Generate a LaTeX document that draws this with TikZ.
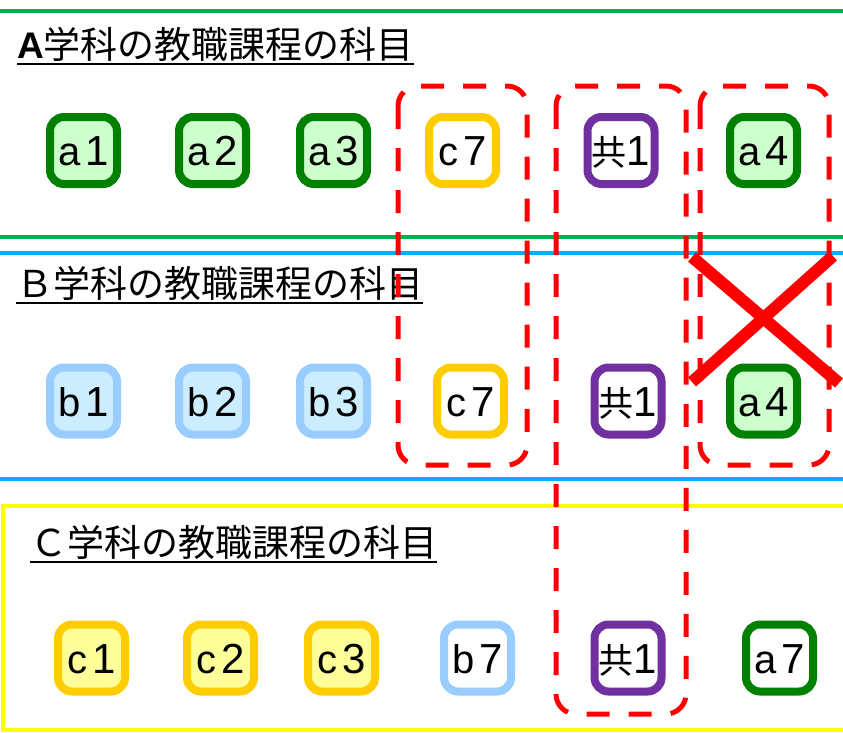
\documentclass[tikz,border=0pt]{standalone}
\usepackage{fontspec}
\setmainfont{Liberation Sans}
\newfontfamily\cjk{Noto Sans CJK JP}
\definecolor{secgreen}{HTML}{00B050}
\definecolor{secblue}{HTML}{00B0F0}
\definecolor{secyellow}{HTML}{FFFF00}
\definecolor{bgreen}{HTML}{008000}
\definecolor{fgreen}{HTML}{CCFFCC}
\definecolor{bblue}{HTML}{99CCFF}
\definecolor{fblue}{HTML}{CCECFF}
\definecolor{byellow}{HTML}{FFCC00}
\definecolor{fyellow}{HTML}{FFFF99}
\definecolor{bpurple}{HTML}{7030A0}
\newcommand\myletter[1]{{\fontsize{40}{40}\selectfont #1}}
\newcommand\mydigit[1]{{\fontsize{42}{42}\selectfont #1}}
\newcommand\subjtext[2]{\myletter{#1}\hspace{5pt}\mydigit{#2}}
\newcommand\kyotext{{\cjk\fontsize{35}{35}\selectfont 共}\mydigit{1}}
\newcommand\titlefont{\cjk\fontsize{37}{37}\selectfont}
\begin{document}
\begin{tikzpicture}[x=1pt,y=-1pt,
  subj/.style={draw, line width=8pt, rounded corners=14pt, minimum width=67pt,
    minimum height=67pt, inner sep=0pt, text height=30pt, text depth=0pt},
  gfill/.style={subj, draw=bgreen, fill=fgreen},
  gwhite/.style={subj, draw=bgreen, fill=white},
  bfill/.style={subj, draw=bblue, fill=fblue},
  bwhite/.style={subj, draw=bblue, fill=white},
  yfill/.style={subj, draw=byellow, fill=fyellow},
  ywhite/.style={subj, draw=byellow, fill=white},
  pwhite/.style={subj, draw=bpurple, fill=white},
  secline/.style={line width=4pt},
  title/.style={anchor=base west, inner sep=0pt},
  uline/.style={line width=2.5pt, black},
  group/.style={draw=red, line width=5pt, dash pattern=on 23pt off 19pt, rounded corners=20pt},
  cross/.style={red, line width=12pt}
]
\useasboundingbox[fill=white] (0,0) rectangle (843,732);

% section lines
\draw[secline, secgreen] (0,11) -- (843,11);
\draw[secline, secgreen] (0,237) -- (843,237);
\draw[secline, secblue] (0,253) -- (843,253);
\draw[secline, secblue] (0,479) -- (843,479);
\draw[secline, secyellow] (850,506) -- (3,506) -- (3,730) -- (850,730);

% titles
\node[title] (tA) at (17,58) {{\fontsize{37}{37}\selectfont\bfseries A}{\titlefont 学科の教職課程の科目}};
\draw[uline] ([yshift=-6pt]tA.base west) -- ([yshift=-6pt]tA.base east);
\node[title] (tB) at (16,297) {\titlefont Ｂ学科の教職課程の科目};
\draw[uline] ([yshift=-6pt]tB.base west) -- ([yshift=-6pt]tB.base east);
\node[title] (tC) at (30,556) {\titlefont Ｃ学科の教職課程の科目};
\draw[uline] ([yshift=-6pt]tC.base west) -- ([yshift=-6pt]tC.base east);

% row A
\node[gfill] (a1) at (83.5,150.5) {\subjtext{a}{1}};
\node[gfill] (a2) at (212.5,150.5) {\subjtext{a}{2}};
\node[gfill] (a3) at (333.5,150.5) {\subjtext{a}{3}};
\node[ywhite] (ac7) at (462.5,150.5) {\subjtext{c}{7}};
\node[pwhite] (ak1) at (621,150.5) {\kyotext};
\node[gfill] (aa4) at (763.5,150.5) {\subjtext{a}{4}};

% row B
\node[bfill] (b1) at (83.5,401) {\subjtext{b}{1}};
\node[bfill] (b2) at (212.5,401) {\subjtext{b}{2}};
\node[bfill] (b3) at (333.5,401) {\subjtext{b}{3}};
\node[ywhite] (bc7) at (470.5,401) {\subjtext{c}{7}};
\node[pwhite] (bk1) at (628,401) {\kyotext};
\node[gfill] (ba4) at (763.5,401) {\subjtext{a}{4}};

% row C
\node[yfill] (c1) at (91.5,658) {\subjtext{c}{1}};
\node[yfill] (c2) at (220.5,658) {\subjtext{c}{2}};
\node[yfill] (c3) at (341.5,658) {\subjtext{c}{3}};
\node[bwhite] (cb7) at (477.5,658) {\subjtext{b}{7}};
\node[pwhite] (ck1) at (628,658) {\kyotext};
\node[gwhite] (ca7) at (779.5,658) {\subjtext{a}{7}};

% dashed groups
\draw[group] (398,86) rectangle (527,465);
\draw[group] (556,86) rectangle (686,714);
\draw[group] (700,86) rectangle (829,465);

% cross
\draw[cross] (692,257) -- (839,383);
\draw[cross] (833,256) -- (692,382);
\end{tikzpicture}
\end{document}
